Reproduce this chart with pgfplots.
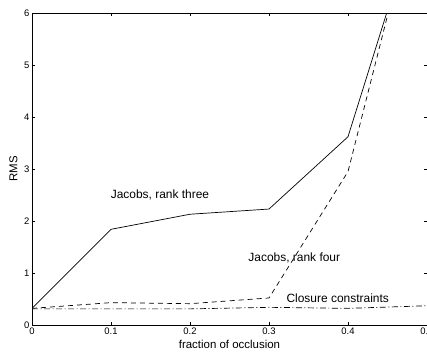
\documentclass[border=0pt]{standalone}
\usepackage{pgfplots}
\pgfplotsset{compat=1.18}
\usepackage{fontspec}
\setmainfont{Liberation Sans}
\begin{document}
\begin{tikzpicture}
\begin{axis}[
  scale only axis,
  width=395bp, height=312bp,
  xmin=0, xmax=0.5, ymin=0, ymax=6,
  xtick={0,0.1,0.2,0.3,0.4,0.5},
  xticklabels={0,0.1,0.2,0.3,0.4,0.5},
  ytick={0,1,2,3,4,5,6},
  tick align=inside,
  major tick length=3bp,
  axis line style={line width=0.9bp},
  tick style={line width=0.6bp, black},
  every tick label/.append style={font=\fontsize{9.5}{10}\selectfont},
  xticklabel style={yshift=1bp},
  yticklabel style={xshift=1bp},
  /pgf/number format/assume math mode=true,
  xlabel={fraction of occlusion},
  ylabel={RMS},
  label style={font=\fontsize{11.5}{12}\selectfont},
  xlabel style={yshift=1bp},
  ylabel style={yshift=0bp},
  clip=true,
]
\addplot[black, line width=0.7bp] coordinates {(0,0.32) (0.1,1.84) (0.2,2.13) (0.3,2.23) (0.4,3.62) (0.5,8.48)};
\addplot[black, line width=0.7bp, dash pattern=on 5bp off 4bp] coordinates {(0,0.32) (0.1,0.43) (0.2,0.41) (0.3,0.52) (0.4,2.95) (0.5,8.95)};
\addplot[black, line width=0.7bp, dash pattern=on 6bp off 2.5bp on 1bp off 2.5bp] coordinates {(0,0.31) (0.1,0.31) (0.2,0.31) (0.3,0.34) (0.4,0.32) (0.5,0.37)};
\node[font=\fontsize{12}{12}\selectfont] at (axis cs:0.162,2.5) {Jacobs, rank three};
\node[font=\fontsize{12}{12}\selectfont] at (axis cs:0.332,1.29) {Jacobs, rank four};
\node[font=\fontsize{12}{12}\selectfont] at (axis cs:0.387,0.51) {Closure constraints};
\coordinate (bbll) at (rel axis cs:0,0);
\coordinate (bbur) at (rel axis cs:1,1);
\end{axis}
\pgfresetboundingbox
\useasboundingbox ([xshift=-32bp,yshift=-27bp]bbll) rectangle ([yshift=13bp]bbur);
\end{tikzpicture}
\end{document}
